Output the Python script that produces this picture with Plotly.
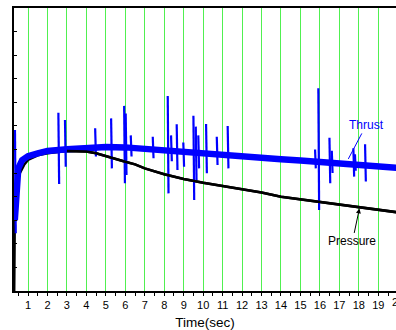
import plotly.graph_objects as go

# ---- data ----
thrust_t = [0.32, 0.40, 0.50, 0.70, 1.0, 1.5, 2, 3, 4, 5, 6, 7, 8, 9, 10, 11, 12, 13,
            14, 15, 16, 17, 18, 19, 19.95]
thrust_v = [3.0, 4.6, 5.2, 5.55, 5.72, 5.84, 5.94, 6.01, 6.08, 6.11, 6.09, 6.02, 5.96,
            5.91, 5.84, 5.77, 5.72, 5.66, 5.59, 5.53, 5.47, 5.41, 5.33, 5.27, 5.22]

spike_t = [0.33, 2.56, 2.90, 4.45, 5.27, 5.94, 6.02, 6.28, 7.41, 8.18, 8.35, 8.64, 8.98,
           9.50, 9.62, 9.75, 10.15, 10.70, 11.26, 15.75, 15.92, 16.49, 16.61, 17.72,
           17.80, 18.32]
spike_top = [6.83, 7.56, 7.25, 6.9, 7.32, 7.85, 7.53, 6.6, 6.54, 8.27, 6.6, 7.07, 6.3,
             7.43, 6.97, 6.6, 7.08, 6.54, 7.0, 6.0, 8.6, 6.5, 5.95, 6.05, 5.8, 6.22]
spike_bot = [2.45, 4.54, 5.27, 5.7, 5.2, 4.57, 4.92, 5.7, 5.63, 4.14, 5.5, 5.13, 5.27,
             3.86, 4.7, 5.2, 4.99, 5.34, 5.2, 5.2, 3.43, 4.57, 5.0, 4.85, 5.1, 4.64]

pressure_t = [0.29, 0.30, 0.33, 0.40, 0.50, 0.60, 0.80, 1.0, 1.5, 2, 3, 4, 4.5, 5, 6,
              6.5, 7, 8, 9, 10, 11, 12, 13, 14, 15, 16, 17, 18, 19, 19.95]
pressure_v = [0.0, 2.5, 4.07, 4.6, 4.85, 5.03, 5.35, 5.56, 5.75, 5.84, 5.94, 5.91, 5.84,
              5.71, 5.48, 5.37, 5.2, 4.95, 4.75, 4.59, 4.45, 4.30, 4.18, 4.0, 3.89,
              3.76, 3.65, 3.53, 3.43, 3.34]

x_tick_vals = list(range(1, 20))
x_tick_text = [str(v) for v in x_tick_vals]

# build spike polyline (top -> bottom for each spike, gaps between)
sx, sy = [], []
for t, top, bot in zip(spike_t, spike_top, spike_bot):
    sx += [t, t + 0.04, None]
    sy += [top, bot, None]

FONT = "Arial, 'Liberation Sans', sans-serif"
BLUE = "#0000ff"
GREEN = "rgb(80,240,80)"

fig = go.Figure()
fig.add_trace(go.Scatter(x=pressure_t, y=pressure_v, mode="lines",
                         line=dict(color="black", width=2.5), showlegend=False))
fig.add_trace(go.Scatter(x=thrust_t, y=thrust_v, mode="lines",
                         line=dict(color=BLUE, width=6.5), showlegend=False))
fig.add_trace(go.Scatter(x=sx, y=sy, mode="lines", connectgaps=False,
                         line=dict(color=BLUE, width=2.2), showlegend=False))
# redraw pressure on top where it separates from thrust
fig.add_trace(go.Scatter(x=pressure_t[10:], y=pressure_v[10:], mode="lines",
                         line=dict(color="black", width=2.5), showlegend=False))

fig.update_layout(
    width=396, height=330,
    margin=dict(l=14, r=0, t=8, b=39),
    paper_bgcolor="white", plot_bgcolor="white",
    font=dict(family=FONT, size=11, color="black"),
    xaxis=dict(range=[0.28, 19.91], tickvals=x_tick_vals, ticktext=x_tick_text,
               showgrid=True, gridcolor=GREEN, gridwidth=1.3,
               ticks="outside", ticklen=3, tickwidth=1, tickcolor="black",
               minor=dict(dtick=0.5, tick0=0, ticks="outside", ticklen=3,
                          tickcolor="black", showgrid=False),
               showline=True, linecolor="black", linewidth=2, mirror=True,
               zeroline=False,
               title=dict(text="Time(sec)", font=dict(size=13.5), standoff=8),
               tickfont=dict(size=11)),
    yaxis=dict(range=[0, 12], dtick=1, tick0=0, showticklabels=False,
               ticks="inside", ticklen=3, tickcolor="black",
               showgrid=False, zeroline=False,
               showline=True, linecolor="black", linewidth=2),
    annotations=[
        dict(x=17.46, y=5.6, xref="x", yref="y", text="Thrust", showarrow=True,
             ax=18, ay=-34, arrowhead=0, arrowwidth=1, arrowcolor=BLUE,
             font=dict(color=BLUE, size=12)),
        dict(x=18.03, y=3.5, xref="x", yref="y", text="Pressure", showarrow=True,
             ax=-7, ay=33, arrowhead=2, arrowsize=1, arrowwidth=1,
             arrowcolor="black", font=dict(color="black", size=12)),
        dict(x=1.0045, y=0, xref="paper", yref="paper", text="20", showarrow=False,
             xanchor="center", yanchor="middle", yshift=-10.7,
             font=dict(size=11, color="black")),
    ],
)

fig.write_html("out.html",
               config={"displayModeBar": False},
               post_script="document.body.style.margin='0';"
                           "document.body.style.overflow='hidden';")
